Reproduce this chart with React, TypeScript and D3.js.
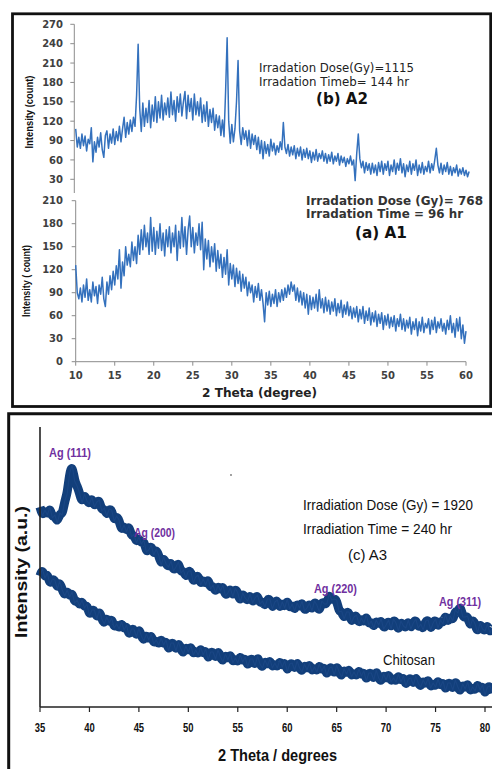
import React from 'react';
import * as d3 from 'd3';

// ---------- Panel (b) A2 and (a) A1 : 2θ from 10°, step 0.2° ----------
const TOP_START = 10;
const TOP_STEP = 0.2;

const a2Counts = [
  108, 80, 95, 78, 100, 82, 97, 74, 92, 85,
  110, 57, 88, 72, 95, 80, 102, 76, 64, 98,
  105, 78, 100, 86, 108, 84, 104, 90, 112, 88,
  108, 126, 95, 118, 100, 122, 104, 126, 112, 160,
  239, 140, 104, 148, 112, 140, 118, 152, 110, 145,
  120, 158, 118, 150, 125, 160, 122, 148, 130, 156,
  126, 165, 130, 152, 120, 158, 134, 162, 128, 150,
  166, 124, 160, 135, 155, 122, 162, 130, 150, 128,
  156, 118, 145, 120, 150, 112, 138, 118, 140, 106,
  130, 110, 128, 98, 122, 96, 165, 249, 120, 86,
  115, 88, 108, 150, 214, 105, 84, 110, 92, 105,
  82, 106, 78, 100, 84, 98, 76, 95, 70, 90,
  62, 88, 70, 84, 66, 92, 74, 86, 68, 82,
  72, 88, 76, 118, 80, 70, 84, 66, 80, 68,
  82, 62, 78, 66, 80, 60, 76, 64, 78, 62,
  74, 56, 72, 60, 76, 58, 70, 62, 74, 58,
  70, 55, 68, 58, 72, 54, 66, 58, 70, 52,
  66, 56, 64, 50, 62, 54, 66, 52, 60, 28,
  70, 100, 62, 48, 58, 40, 56, 44, 54, 38,
  55, 40, 52, 36, 56, 42, 58, 38, 54, 44,
  58, 36, 52, 42, 60, 38, 55, 44, 62, 40,
  54, 34, 52, 42, 58, 38, 54, 44, 60, 36,
  52, 40, 56, 38, 50, 42, 58, 40, 54, 44,
  60, 78, 52, 40, 55, 38, 52, 42, 56, 38,
  50, 36, 48, 40, 52, 35, 46, 38, 48, 36,
  44, 34, 42,
];

const a1Counts = [
  126, 90, 82, 96, 78, 100, 84, 108, 80, 94,
  78, 104, 86, 98, 76, 100, 88, 110, 82, 72,
  104, 88, 112, 94, 118, 100, 125, 108, 146, 96,
  130, 112, 150, 126, 140, 124, 156, 132, 150, 128,
  165, 140, 172, 146, 178, 150, 168, 140, 188, 144,
  175, 140, 170, 148, 180, 145, 168, 138, 172, 150,
  176, 142, 168, 150, 178, 132, 170, 148, 188, 150,
  176, 140, 172, 190, 150, 175, 142, 168, 152, 180,
  146, 182, 120, 160, 134, 158, 124, 150, 130, 154,
  118, 145, 122, 140, 110, 136, 114, 146, 100, 128,
  108, 126, 98, 122, 102, 118, 92, 114, 96, 110,
  86, 104, 90, 100, 78, 98, 84, 102, 80, 94,
  76, 52, 90, 74, 92, 72, 88, 76, 94, 72,
  90, 78, 94, 80, 96, 84, 100, 88, 104, 92,
  100, 80, 96, 78, 92, 74, 90, 70, 88, 62,
  86, 68, 84, 70, 88, 66, 94, 70, 82, 64,
  84, 66, 80, 62, 78, 66, 82, 60, 76, 64,
  80, 58, 74, 62, 78, 60, 72, 56, 70, 58,
  72, 52, 68, 56, 72, 50, 66, 54, 70, 48,
  64, 52, 66, 46, 62, 50, 64, 42, 60, 48,
  62, 44, 58, 46, 60, 40, 56, 46, 62, 42,
  56, 40, 54, 44, 58, 36, 52, 42, 56, 34,
  52, 40, 58, 38, 50, 44, 56, 36, 54, 42,
  58, 38, 52, 44, 56, 40, 50, 36, 54, 42,
  60, 38, 50, 32, 56, 40, 58, 30, 48, 24,
  40,
];

const upperTicks = [30, 60, 90, 120, 150, 180, 210, 240, 270];
const lowerTicks = [0, 30, 60, 90, 120, 150, 180, 210];
const topXTicks = [10, 15, 20, 25, 30, 35, 40, 45, 50, 55, 60];

// ---------- Panel (c) A3 and Chitosan : 2θ from 35°, step 0.25° ----------
const BOT_START = 35;
const BOT_STEP = 0.25;

const a3Intensity = [
  200, 191, 197, 192, 200, 189, 192, 184,
  194, 192, 206, 213, 234, 242, 226, 221,
  214, 204, 213, 206, 203, 210, 200, 205,
  207, 196, 199, 191, 198, 197, 186, 191,
  187, 176, 182, 175, 182, 170, 173, 164,
  170, 163, 167, 155, 157, 162, 152, 158,
  152, 142, 150, 143, 140, 146, 136, 140,
  145, 134, 137, 129, 136, 136, 124, 130,
  132, 122, 128, 122, 129, 118, 122, 114,
  122, 116, 122, 111, 114, 119, 110, 119,
  114, 105, 114, 109, 106, 113, 104, 109,
  112, 103, 106, 100, 108, 108, 98, 105,
  107, 98, 105, 99, 108, 98, 103, 96,
  104, 99, 106, 96, 99, 104, 96, 106,
  102, 95, 106, 103, 103, 113, 107, 108,
  107, 95, 96, 88, 95, 95, 84, 90,
  92, 83, 89, 84, 92, 82, 86, 79,
  87, 82, 88, 78, 82, 87, 78, 88,
  84, 76, 86, 81, 79, 87, 78, 84,
  88, 79, 83, 77, 86, 87, 77, 84,
  88, 79, 87, 83, 93, 84, 91, 86,
  97, 94, 102, 90, 90, 91, 80, 88,
  83, 74, 84, 78, 76, 83, 74, 79,
];

const chitosanIntensity = [
  131, 138, 129, 134, 122, 128, 127, 118,
  126, 117, 111, 117, 110, 115, 104, 107,
  101, 107, 99, 103, 91, 97, 97, 88,
  97, 88, 83, 90, 84, 89, 79, 83,
  78, 85, 77, 82, 71, 78, 78, 70,
  79, 71, 66, 73, 67, 73, 63, 67,
  62, 69, 62, 67, 56, 64, 64, 56,
  65, 58, 53, 61, 55, 62, 52, 57,
  52, 60, 52, 58, 47, 55, 55, 48,
  57, 50, 45, 53, 47, 54, 44, 49,
  44, 52, 45, 50, 40, 48, 48, 41,
  51, 43, 39, 47, 41, 48, 39, 44,
  39, 47, 40, 46, 35, 43, 44, 37,
  46, 39, 35, 43, 37, 44, 35, 40,
  35, 43, 36, 41, 31, 39, 40, 32,
  42, 35, 30, 38, 33, 39, 30, 35,
  30, 38, 31, 36, 26, 34, 34, 27,
  37, 29, 25, 33, 27, 34, 25, 29,
  25, 33, 25, 31, 21, 28, 29, 22,
  31, 24, 20, 27, 22, 29, 19, 24,
  20, 28, 20, 26, 16, 24, 24, 17,
  27, 20, 15, 23, 18, 25, 15, 20,
  16, 24, 17, 22, 12, 20, 21, 14,
];

const bottomXTicks = [35, 40, 45, 50, 55, 60, 65, 70, 75, 80];

const VERD = "'DejaVu Sans', Verdana, sans-serif";
const NARROW = "'Liberation Sans Narrow', 'Arial Narrow', 'Liberation Sans', sans-serif";
const ARIAL = "'Liberation Sans', Arial, sans-serif";

export default function App() {
  const xTop = d3.scaleLinear().domain([10, 60]).range([75.7, 466]);
  const yUp = d3.scaleLinear().domain([30, 270]).range([179.3, 24.3]);
  const yLo = d3.scaleLinear().domain([0, 210]).range([361.7, 200.7]);
  const xB = d3.scaleLinear().domain([35, 80]).range([40, 485]);
  const yB = d3.scaleLinear().domain([0, 280]).range([707, 427]);

  const lineUp = d3.line<number>()
    .x((_, i) => xTop(TOP_START + i * TOP_STEP))
    .y((d) => yUp(d));
  const lineLo = d3.line<number>()
    .x((_, i) => xTop(TOP_START + i * TOP_STEP))
    .y((d) => yLo(d));
  const lineB = d3.line<number>()
    .x((_, i) => xB(BOT_START + i * BOT_STEP))
    .y((d) => yB(d));
  const lineBSmooth = d3.line<number>()
    .x((_, i) => xB(BOT_START + i * BOT_STEP))
    .y((d) => yB(d))
    .curve(d3.curveBasis);

  const upAxisX = 74.3;
  const loAxisX = xTop(10);
  const blue = '#3471bd';
  const navy = '#123f7b';
  const fringe = '#1a4684';
  const purple = '#7030a0';

  const bandSeries = [a3Intensity, chitosanIntensity];

  return (
    <svg width={492} height={769} style={{ position: 'absolute', left: 0, top: 0, background: '#fff' }}>
      <rect x={0} y={0} width={492} height={769} fill="#fff" />

      {/* ---------- frames ---------- */}
      <rect x={12.5} y={13.8} width={478.2} height={392.7} fill="none" stroke="#111" strokeWidth={2.8} />
      <path d="M8.7,769 L8.7,413.7 L492,413.7" fill="none" stroke="#111" strokeWidth={3} />

      {/* ---------- upper chart (b) A2 ---------- */}
      <line x1={upAxisX} x2={upAxisX} y1={yUp(270)} y2={193} stroke="#8c8c8c" strokeWidth={1} />
      {upperTicks.map((t) => (
        <g key={'ut' + t}>
          <line x1={upAxisX - 4} x2={upAxisX} y1={yUp(t)} y2={yUp(t)} stroke="#8c8c8c" strokeWidth={1} />
          <text x={63} y={yUp(t) + 3.6} textAnchor="end" fontFamily={VERD} fontSize={10} fontWeight="bold" fill="#404040">
            {t}
          </text>
        </g>
      ))}
      <path d={lineUp(a2Counts) || ''} fill="none" stroke={blue} strokeWidth={1.5} strokeLinejoin="round" />
      <text transform="translate(33,112) rotate(-90)" textAnchor="middle" fontFamily={NARROW} fontSize={10.5} fontWeight="bold" fill="#111" textLength={73} lengthAdjust="spacingAndGlyphs">
        Intensity (count)
      </text>
      <text x={259} y={71.7} fontFamily={VERD} fontSize={11.5} fill="#222" textLength={155} lengthAdjust="spacingAndGlyphs">
        Irradation Dose(Gy)=1115
      </text>
      <text x={259} y={86} fontFamily={VERD} fontSize={11.5} fill="#222" textLength={150} lengthAdjust="spacingAndGlyphs">
        Irradation Timeb= 144 hr
      </text>
      <text x={316} y={104} fontFamily={VERD} fontSize={15} fontWeight="bold" fill="#111" textLength={52} lengthAdjust="spacingAndGlyphs">
        (b) A2
      </text>

      {/* ---------- lower chart (a) A1 ---------- */}
      <line x1={loAxisX} x2={loAxisX} y1={yLo(210)} y2={yLo(0)} stroke="#8c8c8c" strokeWidth={1} />
      <line x1={loAxisX} x2={xTop(60)} y1={yLo(0)} y2={yLo(0)} stroke="#8c8c8c" strokeWidth={1} />
      {lowerTicks.map((t) => (
        <g key={'lt' + t}>
          <line x1={loAxisX - 4} x2={loAxisX} y1={yLo(t)} y2={yLo(t)} stroke="#8c8c8c" strokeWidth={1} />
          <text x={63} y={yLo(t) + 3.6} textAnchor="end" fontFamily={VERD} fontSize={10} fontWeight="bold" fill="#404040">
            {t}
          </text>
        </g>
      ))}
      {topXTicks.map((t) => (
        <g key={'xt' + t}>
          <line x1={xTop(t)} x2={xTop(t)} y1={yLo(0)} y2={yLo(0) + 4} stroke="#8c8c8c" strokeWidth={1} />
          <text x={xTop(t)} y={378.5} textAnchor="middle" fontFamily={VERD} fontSize={10} fontWeight="bold" fill="#404040">
            {t}
          </text>
        </g>
      ))}
      <path d={lineLo(a1Counts) || ''} fill="none" stroke={blue} strokeWidth={1.5} strokeLinejoin="round" />
      <text transform="translate(29.5,281) rotate(-90)" textAnchor="middle" fontFamily={NARROW} fontSize={10.5} fontWeight="bold" fill="#111" textLength={72} lengthAdjust="spacingAndGlyphs">
        Intensity ( count)
      </text>
      <text x={306} y={205} fontFamily={VERD} fontSize={12} fontWeight="bold" fill="#333" textLength={177} lengthAdjust="spacingAndGlyphs">
        Irradation Dose (Gy)= 768
      </text>
      <text x={306} y={218.3} fontFamily={VERD} fontSize={12} fontWeight="bold" fill="#333" textLength={157} lengthAdjust="spacingAndGlyphs">
        Irradation Time = 96 hr
      </text>
      <text x={355} y={238.3} fontFamily={VERD} fontSize={15} fontWeight="bold" fill="#111" textLength={52} lengthAdjust="spacingAndGlyphs">
        (a) A1
      </text>
      <text x={259.5} y={397.3} textAnchor="middle" fontFamily={VERD} fontSize={12} fontWeight="bold" fill="#222" textLength={115} lengthAdjust="spacingAndGlyphs">
        2 Theta (degree)
      </text>

      {/* ---------- bottom chart (c) A3 ---------- */}
      {bandSeries.map((s, k) => (
        <g key={'band' + k}>
          <path d={lineBSmooth(s) || ''} fill="none" stroke={navy} strokeWidth={9} strokeLinejoin="round" strokeLinecap="butt" />
          <path d={lineB(s) || ''} fill="none" stroke={fringe} strokeWidth={1.1} strokeLinejoin="round" />
        </g>
      ))}
      <line x1={40} x2={40} y1={427} y2={707} stroke="#222" strokeWidth={1.6} />
      <line x1={40} x2={492} y1={707} y2={707} stroke="#222" strokeWidth={1.6} />
      {bottomXTicks.map((t) => (
        <g key={'bt' + t}>
          <line x1={xB(t)} x2={xB(t)} y1={707} y2={712} stroke="#222" strokeWidth={1.2} />
          <text x={xB(t)} y={731.5} textAnchor="middle" fontFamily={NARROW} fontSize={12} fontWeight="bold" fill="#111" textLength={10.5} lengthAdjust="spacingAndGlyphs">
            {t}
          </text>
        </g>
      ))}
      <text x={277.5} y={761} textAnchor="middle" fontFamily={NARROW} fontSize={17} fontWeight="bold" fill="#111" textLength={119} lengthAdjust="spacingAndGlyphs">
        2 Theta / degrees
      </text>
      <text transform="translate(27,572) rotate(-90)" textAnchor="middle" fontFamily={ARIAL} fontSize={17} fontWeight="bold" fill="#111" textLength={132} lengthAdjust="spacingAndGlyphs">
        Intensity (a.u.)
      </text>

      <text x={49} y={457.3} fontFamily={NARROW} fontSize={13} fontWeight="bold" fill={purple} textLength={42} lengthAdjust="spacingAndGlyphs">Ag (111)</text>
      <text x={134} y={537.3} fontFamily={NARROW} fontSize={13} fontWeight="bold" fill={purple} textLength={41} lengthAdjust="spacingAndGlyphs">Ag (200)</text>
      <text x={314} y={592.7} fontFamily={NARROW} fontSize={13} fontWeight="bold" fill={purple} textLength={43} lengthAdjust="spacingAndGlyphs">Ag (220)</text>
      <text x={439} y={606} fontFamily={NARROW} fontSize={13} fontWeight="bold" fill={purple} textLength={42} lengthAdjust="spacingAndGlyphs">Ag (311)</text>

      <text x={303} y={510} fontFamily={NARROW} fontSize={14.5} fill="#111" textLength={170} lengthAdjust="spacingAndGlyphs">Irradiation Dose (Gy) = 1920</text>
      <text x={303} y={534} fontFamily={NARROW} fontSize={14.5} fill="#111" textLength={149} lengthAdjust="spacingAndGlyphs">Irradiation Time = 240 hr</text>
      <text x={348} y={560} fontFamily={NARROW} fontSize={15} fill="#111" textLength={39} lengthAdjust="spacingAndGlyphs">(c) A3</text>
      <text x={383} y={665} fontFamily={NARROW} fontSize={15} fill="#111" textLength={52} lengthAdjust="spacingAndGlyphs">Chitosan</text>
      <circle cx={231} cy={475} r={0.9} fill="#777" />
    </svg>
  );
}
